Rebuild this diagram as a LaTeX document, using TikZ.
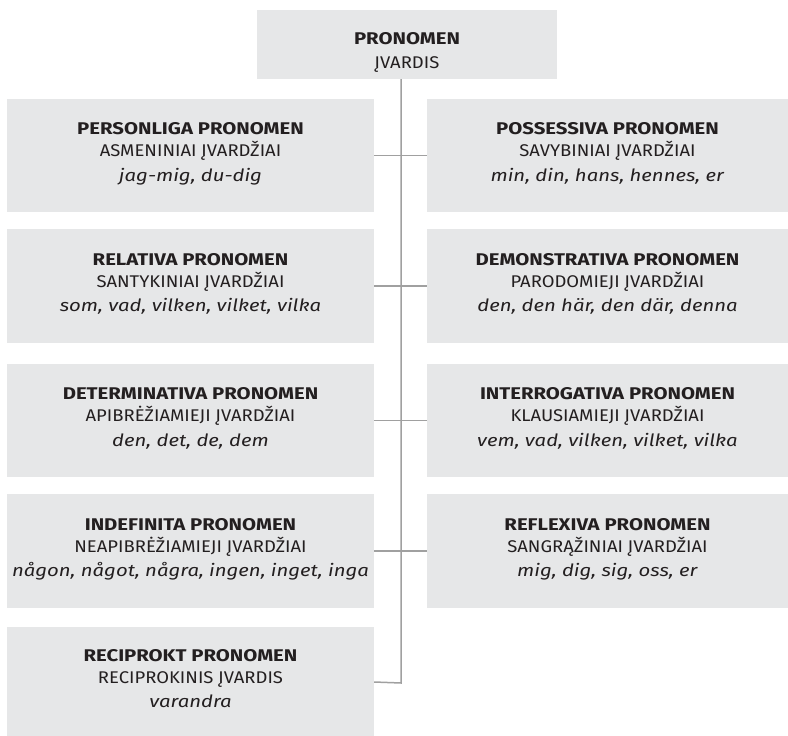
\documentclass[tikz,border=0pt]{standalone}
\usepackage{graphicx}
\usepackage{fontspec}
\setmainfont{Fira Sans}[
  BoldFeatures={FakeStretch=1.2},
  ItalicFeatures={FakeStretch=1.2}]
\definecolor{boxgray}{HTML}{E6E7E8}
\definecolor{linegray}{HTML}{A0A0A0}
\definecolor{ink}{HTML}{231F20}
\newcommand{\regwide}[1]{\scalebox{1.09}[1]{#1}}
\newcommand{\pentry}[3]{\textbf{#1}\\\regwide{#2}\\[3bp]\textit{#3}\\[-15bp]\mbox{}}
\begin{document}
\begin{tikzpicture}[x=1bp,y=-1bp,
  pbox/.style={fill=boxgray, inner sep=0pt, align=center, text=ink, font=\fontsize{17}{22}\selectfont},
  lbox/.style={pbox, minimum width=367bp},
  rbox/.style={pbox, minimum width=361bp},
  conn/.style={draw=linegray, line width=1.5bp}]
\useasboundingbox (0,0) rectangle (788,736);
\node[pbox, minimum width=300bp, minimum height=69bp, font=\fontsize{17}{24}\selectfont] (top) at (407,44.5) {\mbox{}\\[4bp]\textbf{PRONOMEN}\\[1bp]\regwide{ĮVARDIS}\\[-20bp]\mbox{}};
\node[lbox, minimum height=113bp] (L1) at (190.5,155.5) {\pentry{PERSONLIGA PRONOMEN}{ASMENINIAI ĮVARDŽIAI}{jag-mig, du-dig}};
\node[rbox, minimum height=113bp] (R1) at (607.5,155.5) {\pentry{POSSESSIVA PRONOMEN}{SAVYBINIAI ĮVARDŽIAI}{min, din, hans, hennes, er}};
\node[lbox, minimum height=114bp] (L2) at (190.5,286) {\pentry{RELATIVA PRONOMEN}{SANTYKINIAI ĮVARDŽIAI}{som, vad, vilken, vilket, vilka}};
\node[rbox, minimum height=114bp] (R2) at (607.5,286) {\pentry{DEMONSTRATIVA PRONOMEN}{PARODOMIEJI ĮVARDŽIAI}{den, den här, den där, denna}};
\node[lbox, minimum height=113bp] (L3) at (190.5,420.5) {\pentry{DETERMINATIVA PRONOMEN}{APIBRĖŽIAMIEJI ĮVARDŽIAI}{den, det, de, dem}};
\node[rbox, minimum height=113bp] (R3) at (607.5,420.5) {\pentry{INTERROGATIVA PRONOMEN}{KLAUSIAMIEJI ĮVARDŽIAI}{vem, vad, vilken, vilket, vilka}};
\node[lbox, minimum height=114bp] (L4) at (190.5,551) {\pentry{INDEFINITA PRONOMEN}{NEAPIBRĖŽIAMIEJI ĮVARDŽIAI}{någon, något, några, ingen, inget, inga}};
\node[rbox, minimum height=114bp] (R4) at (607.5,551) {\pentry{REFLEXIVA PRONOMEN}{SANGRĄŽINIAI ĮVARDŽIAI}{mig, dig, sig, oss, er}};
\node[lbox, minimum height=110bp] (L5) at (190.5,682) {\pentry{RECIPROKT PRONOMEN}{RECIPROKINIS ĮVARDIS}{varandra}};
\coordinate (t1) at (401,683);
\draw[conn] (top.south -| t1) -- (t1) -- (L5.east);
\foreach \i in {1,2,3,4} {\draw[conn] (L\i.east) -- (R\i.west);}
\end{tikzpicture}
\end{document}
